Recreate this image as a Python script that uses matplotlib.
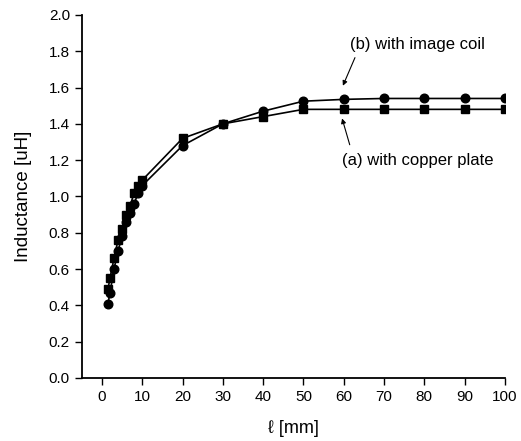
import matplotlib
matplotlib.use("Agg")
from matplotlib import pyplot as plt

plt.rcParams["font.family"] = ["Liberation Sans", "DejaVu Sans"]

# distance l [mm]
dist = [1.5, 2, 3, 4, 5, 6, 7, 8, 9, 10, 20, 30, 40, 50, 60, 70, 80, 90, 100]
# (a) with copper plate
copper = [0.49, 0.55, 0.66, 0.76, 0.82, 0.90, 0.95, 1.02, 1.06, 1.09,
          1.32, 1.40, 1.44, 1.48, 1.48, 1.48, 1.48, 1.48, 1.48]
# (b) with image coil
image_coil = [0.41, 0.47, 0.60, 0.70, 0.78, 0.86, 0.91, 0.96, 1.02, 1.06,
              1.28, 1.40, 1.47, 1.525, 1.535, 1.54, 1.54, 1.54, 1.54]

xticks = list(range(0, 101, 10))
yticks = [0.0, 0.2, 0.4, 0.6, 0.8, 1.0, 1.2, 1.4, 1.6, 1.8, 2.0]

fig = plt.figure(figsize=(5.21, 4.41), dpi=100)
ax = fig.add_axes([0.157, 0.143, 0.812, 0.823])

ax.plot(dist, copper, color="black", lw=1.2, marker="s", ms=5.5)
ax.plot(dist, image_coil, color="black", lw=1.2, marker="o", ms=6.2)

arrow = dict(arrowstyle="-|>", color="black", lw=0.8, mutation_scale=7,
             shrinkA=0, shrinkB=0)
ax.text(78.2, 1.835, "(b) with image coil", ha="center", va="center", fontsize=12)
ax.annotate("", xy=(59.8, 1.61), xytext=(62.8, 1.765), arrowprops=arrow)
ax.text(78.5, 1.20, "(a) with copper plate", ha="center", va="center", fontsize=12)
ax.annotate("", xy=(59.6, 1.43), xytext=(61.5, 1.285), arrowprops=arrow)

ax.set_xlim(-5, 100)
ax.set_ylim(0, 2.0)
ax.set_xticks(xticks)
ax.set_yticks(yticks)
ax.set_yticklabels([f"{v:.1f}" for v in yticks])
ax.tick_params(direction="out", length=5, width=1, labelsize=11, colors="black")
for side in ["top", "right"]:
    ax.spines[side].set_visible(False)
for side in ["left", "bottom"]:
    ax.spines[side].set_linewidth(1.3)

ax.set_xlabel("ℓ [mm]", fontsize=13, labelpad=12)
ax.set_ylabel("Inductance [uH]", fontsize=13.5, labelpad=12)

fig.savefig("out.png", dpi=100)
